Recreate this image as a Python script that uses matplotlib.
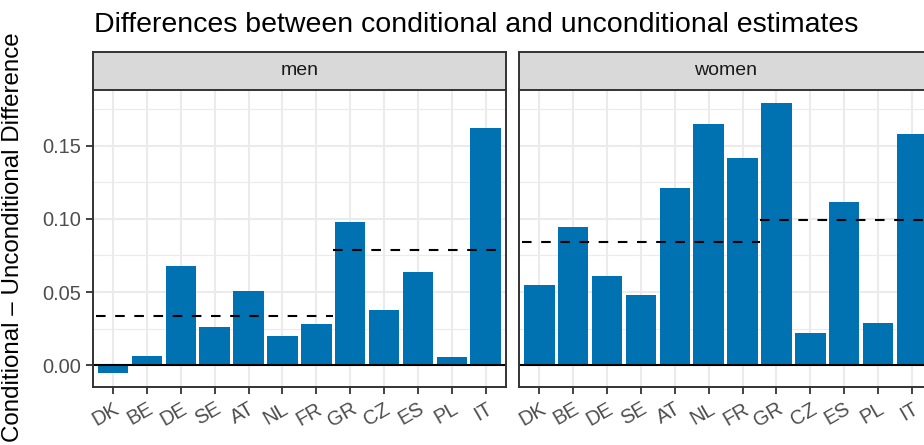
"""Faceted bar chart: conditional minus unconditional estimates by country."""

import matplotlib

matplotlib.use("Agg")
import matplotlib.pyplot as plt
import numpy as np

plt.rcParams["font.family"] = ["Liberation Sans", "DejaVu Sans"]

COUNTRIES = ["DK", "BE", "DE", "SE", "AT", "NL", "FR", "GR", "CZ", "ES", "PL", "IT"]
MEN = [-0.0055, 0.0061, 0.0675, 0.0259, 0.0505, 0.0198, 0.0280, 0.0982, 0.0375, 0.0634, 0.0055, 0.1623]
WOMEN = [0.0545, 0.0948, 0.0607, 0.0477, 0.1214, 0.1650, 0.1418, 0.1793, 0.0218, 0.1118, 0.0286, 0.1580]
# group reference levels (dashed lines): first group DK..FR, second group GR..IT
GROUP_SIZES = [7, 5]
MEN_LEVELS = [0.0334, 0.0789]
WOMEN_LEVELS = [0.0845, 0.0995]
PANELS = ["men", "women"]
YTICKS = [0.00, 0.05, 0.10, 0.15]

BLUE = "#0072B2"
GRID = "#EBEBEB"
BORDER = "#333333"

W, H = 924, 445
fig = plt.figure(figsize=(W / 100, H / 100), dpi=100)

# shared y-range with ggplot-like 5% expansion
allvals = np.array(MEN + WOMEN + [0.0])
span = allvals.max() - allvals.min()
ylim = (allvals.min() - 0.05 * span, allvals.max() + 0.05 * span)
x = np.arange(1, len(COUNTRIES) + 1)

panel_left = [92.7, 519.0]
panel_w = 413.3
panel_top, panel_bot = 89.5, 386.7
strip_top = 52.0

for i, (name, vals, levels) in enumerate(zip(PANELS, [MEN, WOMEN], [MEN_LEVELS, WOMEN_LEVELS])):
    ax = fig.add_axes([panel_left[i] / W, (H - panel_bot) / H, panel_w / W, (panel_bot - panel_top) / H])
    ax.set_xlim(0.4, len(COUNTRIES) + 0.6)
    ax.set_ylim(*ylim)

    ax.set_yticks(YTICKS)
    ax.set_yticks([0.025, 0.075, 0.125, 0.175], minor=True)
    ax.set_xticks(x)
    ax.set_xticklabels(COUNTRIES, rotation=30, ha="right", va="top", rotation_mode="anchor")
    if i == 0:
        ax.set_yticklabels([f"{t:.2f}" for t in YTICKS])
    else:
        ax.tick_params(axis="y", which="major", left=False, labelleft=False)
    ax.tick_params(axis="both", which="major", length=5, width=1.3, color=BORDER,
                   labelsize=14.4, labelcolor="#4D4D4D", pad=3)
    ax.tick_params(axis="y", which="minor", left=False)
    ax.tick_params(axis="x", pad=4)

    ax.grid(True, which="major", color=GRID, lw=1.5)
    ax.grid(True, which="minor", axis="y", color=GRID, lw=0.8)
    ax.set_axisbelow(True)

    ax.bar(x, vals, width=0.9, color=BLUE, zorder=2)
    ax.axhline(0, color="black", lw=1.5, zorder=3)

    start = 0.5
    for size, level in zip(GROUP_SIZES, levels):
        ax.plot([start, start + size], [level, level], color="black", lw=1.5,
                linestyle=(0, (4.6, 4.6)), zorder=4)
        start += size

    for s in ax.spines.values():
        s.set_color(BORDER)
        s.set_linewidth(1.4)
        s.set_zorder(5)

    sax = fig.add_axes([panel_left[i] / W, (H - panel_top) / H, panel_w / W, (panel_top - strip_top) / H])
    sax.set_facecolor("#D9D9D9")
    sax.set_xticks([])
    sax.set_yticks([])
    for s in sax.spines.values():
        s.set_color(BORDER)
        s.set_linewidth(1.4)
    sax.text(0.5, 0.5, name, transform=sax.transAxes, ha="center", va="center",
             fontsize=14, color="#1A1A1A")

fig.text(94 / W, (H - 32.5) / H, "Differences between conditional and unconditional estimates",
         fontsize=20.5, color="black", ha="left", va="baseline")
fig.text(13 / W, (H - 237.5) / H, "Conditional \u2013 Unconditional Difference",
         fontsize=17.4, color="black", rotation=90, ha="center", va="center")

fig.savefig("out.png", dpi=100)
